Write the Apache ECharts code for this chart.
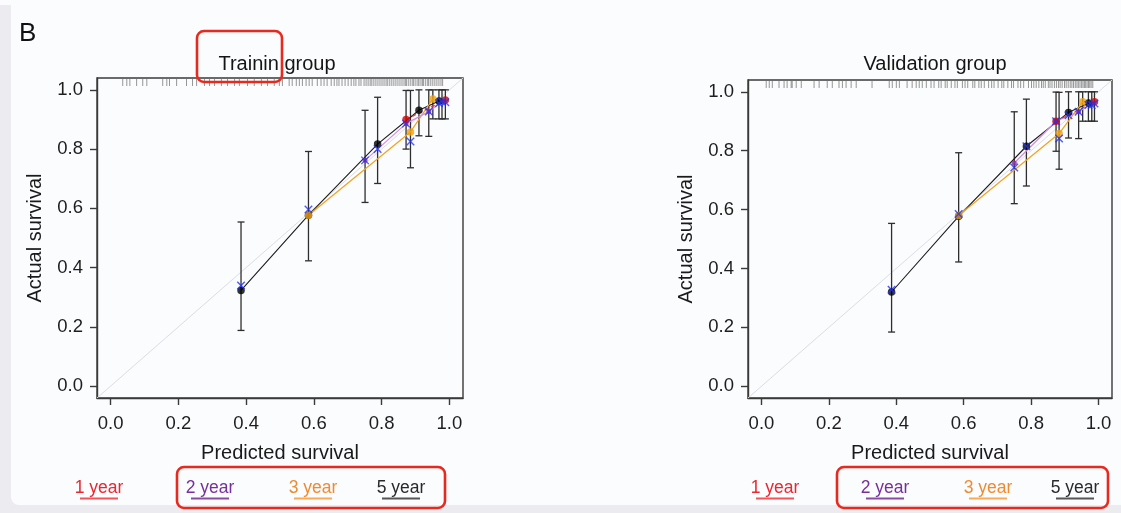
<!DOCTYPE html>
<html>
<head>
<meta charset="utf-8">
<script src="https://cdn.jsdelivr.net/npm/echarts@6/dist/echarts.min.js"></script>
<style>
html,body{margin:0;padding:0;background:#ecebef;}
#c{width:1121px;height:513px;}
</style>
</head>
<body>
<div id="c"></div>
<script>
// ---------- data ----------
const tickValues = [0, 0.2, 0.4, 0.6, 0.8, 1.0];
const panelTitles = ['Trainin group', 'Validation group'];
const xName = 'Predicted survival';
const yName = 'Actual survival';
const legendLabels = ['1 year', '2 year', '3 year', '5 year'];

// Training group
const trainYear1 = [[0.872, 0.900], [0.988, 0.966]];
const trainYear2 = [[0.751, 0.762], [0.872, 0.886], [0.939, 0.927], [0.978, 0.960]];
const trainYear3 = [[0.584, 0.577], [0.885, 0.858], [0.951, 0.969]];
const trainYear5 = [[0.385, 0.323], [0.584, 0.577], [0.788, 0.817], [0.910, 0.931], [0.969, 0.962]];
const trainCorrected = [[0.385, 0.340], [0.584, 0.596], [0.751, 0.762], [0.788, 0.800], [0.872, 0.886],
  [0.885, 0.826], [0.939, 0.927], [0.969, 0.955], [0.978, 0.960], [0.988, 0.958]];
const trainErrors = [[0.385, 0.188, 0.554], [0.584, 0.423, 0.792], [0.751, 0.620, 0.931], [0.788, 0.684, 0.975],
  [0.872, 0.800, 0.998], [0.885, 0.737, 0.998], [0.910, 0.845, 1.000], [0.939, 0.843, 1.000],
  [0.951, 0.902, 1.000], [0.969, 0.902, 1.000], [0.978, 0.902, 1.000], [0.988, 0.902, 1.000]];
const trainRug = [0.036, 0.048, 0.057, 0.077, 0.095, 0.107, 0.154, 0.166, 0.174, 0.195, 0.224, 0.242, 0.254,
  0.277, 0.292, 0.307, 0.327, 0.345, 0.366, 0.380, 0.404, 0.424, 0.445, 0.463, 0.483, 0.498, 0.507, 0.527,
  0.536, 0.548, 0.557, 0.566, 0.577, 0.586, 0.595, 0.610, 0.621, 0.630, 0.639, 0.651, 0.660, 0.668, 0.674,
  0.683, 0.692, 0.701, 0.710, 0.718, 0.724, 0.733, 0.739, 0.748, 0.754, 0.760, 0.766, 0.771, 0.777, 0.783,
  0.789, 0.795, 0.801, 0.807, 0.813, 0.818, 0.824, 0.830, 0.836, 0.842, 0.848, 0.854, 0.860, 0.866, 0.871,
  0.874, 0.880, 0.886, 0.892, 0.895, 0.901, 0.907, 0.910, 0.916, 0.921, 0.924, 0.930, 0.936, 0.939, 0.945,
  0.951, 0.957, 0.963, 0.969, 0.975, 0.980];

// Validation group
const validYear1 = [[0.874, 0.900], [0.988, 0.966]];
const validYear2 = [[0.750, 0.758], [0.874, 0.900], [0.941, 0.932], [0.980, 0.960]];
const validYear3 = [[0.585, 0.580], [0.883, 0.858], [0.953, 0.966]];
const validYear5 = [[0.386, 0.320], [0.585, 0.577], [0.786, 0.815], [0.911, 0.930], [0.970, 0.962]];
const validCorrected = [[0.386, 0.328], [0.585, 0.585], [0.750, 0.743], [0.786, 0.815], [0.874, 0.900],
  [0.883, 0.841], [0.911, 0.920], [0.941, 0.932], [0.970, 0.955], [0.980, 0.955], [0.988, 0.960]];
const validErrors = [[0.386, 0.184, 0.553], [0.585, 0.422, 0.793], [0.750, 0.620, 0.932], [0.786, 0.680, 0.975],
  [0.874, 0.798, 0.999], [0.883, 0.737, 0.998], [0.911, 0.843, 1.000], [0.941, 0.841, 1.000],
  [0.953, 0.900, 1.000], [0.970, 0.900, 1.000], [0.980, 0.900, 1.000], [0.988, 0.900, 1.000]];
const validRug = [0.014, 0.023, 0.032, 0.052, 0.067, 0.076, 0.088, 0.091, 0.103, 0.118, 0.156, 0.171, 0.195,
  0.210, 0.230, 0.240, 0.251, 0.266, 0.281, 0.328, 0.379, 0.388, 0.400, 0.409, 0.432, 0.447, 0.459, 0.468,
  0.477, 0.489, 0.503, 0.512, 0.526, 0.533, 0.545, 0.551, 0.563, 0.574, 0.581, 0.596, 0.604, 0.612, 0.627,
  0.633, 0.645, 0.652, 0.661, 0.674, 0.683, 0.690, 0.702, 0.713, 0.719, 0.731, 0.742, 0.748, 0.761, 0.769,
  0.778, 0.792, 0.801, 0.808, 0.815, 0.823, 0.831, 0.836, 0.842, 0.851, 0.856, 0.862, 0.869, 0.875, 0.881,
  0.886, 0.892, 0.899, 0.904, 0.910, 0.916, 0.921, 0.926, 0.931, 0.936, 0.940, 0.945, 0.950, 0.954, 0.958,
  0.962, 0.966, 0.970, 0.974, 0.978, 0.983];

// ---------- styles ----------
const FONT = 'Liberation Sans, Arial, Helvetica, sans-serif';
const lineColors = ['#ee3030', '#d889e2', '#f4a21e', '#1c1c1c'];
const dotColors = ['#d40000', '#8a2c9c', '#f0a010', '#000000'];
const legendText = ['#ea2630', '#76309a', '#f08a30', '#2a2a2a'];
const legendLine = ['#f2545c', '#8b4aa2', '#f7ab56', '#555555'];
const AX = '#3a3a3a';

const grids = [
  {left: 97, top: 78, width: 366, height: 320},
  {left: 748, top: 80, width: 364, height: 318}
];

const panels = [
  {years: [trainYear1, trainYear2, trainYear3, trainYear5], corr: trainCorrected, err: trainErrors, rug: trainRug},
  {years: [validYear1, validYear2, validYear3, validYear5], corr: validCorrected, err: validErrors, rug: validRug}
];

function axisBase(isX) {
  return {
    type: 'value', min: -0.04, max: 1.04,
    axisLine: {show: true, onZero: false, lineStyle: {color: AX, width: 1.4}},
    axisTick: {show: true, length: 7, inside: false, customValues: tickValues, lineStyle: {color: AX, width: 1.4}},
    axisLabel: {
      customValues: tickValues, formatter: v => Number(v).toFixed(1),
      color: '#1e1e1e', fontSize: 18.5, fontFamily: FONT, margin: isX ? 16 : 14
    },
    splitLine: {show: false},
    name: isX ? xName : yName,
    nameLocation: 'middle',
    nameGap: isX ? 45 : 52,
    nameTextStyle: {fontSize: 20, color: '#1a1a1a', fontFamily: FONT}
  };
}

const xAxes = [], yAxes = [], series = [];
grids.forEach((g, i) => {
  xAxes.push(Object.assign(axisBase(true), {gridIndex: i}));
  yAxes.push(Object.assign(axisBase(false), {gridIndex: i}));
  const p = panels[i];
  // diagonal reference line
  series.push({
    type: 'line', xAxisIndex: i, yAxisIndex: i, data: [[-0.04, -0.04], [1.04, 1.04]],
    symbol: 'none', lineStyle: {color: '#dcdce2', width: 1}, silent: true, z: 1
  });
  // rug
  series.push({
    type: 'scatter', xAxisIndex: i, yAxisIndex: i, data: p.rug.map(v => [v, 1.04]),
    symbol: 'rect', symbolSize: [0.9, 8], symbolOffset: [0, 4],
    itemStyle: {color: '#6e6e6e', opacity: 0.8}, silent: true, z: 2
  });
  // error bars
  series.push({
    type: 'custom', xAxisIndex: i, yAxisIndex: i, data: p.err, z: 3,
    encode: {x: 0, y: [1, 2]},
    renderItem: function (params, api) {
      const x = api.value(0), lo = api.value(1), hi = api.value(2);
      const a = api.coord([x, lo]), b = api.coord([x, hi]);
      const st = {stroke: '#2e2e2e', lineWidth: 1.3};
      return {
        type: 'group', children: [
          {type: 'line', shape: {x1: a[0], y1: a[1], x2: b[0], y2: b[1]}, style: st},
          {type: 'line', shape: {x1: a[0] - 3.5, y1: a[1], x2: a[0] + 3.5, y2: a[1]}, style: st},
          {type: 'line', shape: {x1: b[0] - 3.5, y1: b[1], x2: b[0] + 3.5, y2: b[1]}, style: st}
        ]
      };
    }
  });
  // lines (5,3,2,1 order)
  [3, 2, 1, 0].forEach(k => {
    series.push({
      type: 'line', xAxisIndex: i, yAxisIndex: i, data: p.years[k], symbol: 'none', z: 4,
      lineStyle: {color: lineColors[k], width: k === 3 ? 1.1 : 1.2, type: k === 0 ? [4, 3] : 'solid'},
      silent: true
    });
  });
  // dots
  [1, 3, 0, 2].forEach(k => {
    series.push({
      type: 'scatter', xAxisIndex: i, yAxisIndex: i, data: p.years[k], symbol: 'circle',
      symbolSize: k === 1 ? 5 : 7.5,
      itemStyle: {color: dotColors[k]}, z: 5, silent: true
    });
  });
  // bias-corrected crosses
  series.push({
    type: 'scatter', xAxisIndex: i, yAxisIndex: i, data: p.corr,
    symbol: 'path://M0,0L10,10M10,0L0,10', symbolSize: 7.5,
    itemStyle: {color: 'rgba(0,0,0,0)', borderColor: '#2233f5', borderWidth: 1.4}, z: 6, silent: true
  });
});

// legend items built from labels
const legendX = [[99, 210, 313, 401], [775, 885, 988, 1075]];
const graphics = [
  {type: 'rect', shape: {x: 0, y: 0, width: 1121, height: 513}, style: {fill: '#ecebef'}, z: -10, silent: true},
  {type: 'rect', shape: {x: 11, y: -20, width: 1130, height: 525, r: 8}, style: {fill: '#fbfcfe'}, z: -9, silent: true},
  {type: 'rect', shape: {x: 0, y: 0, width: 11, height: 5}, style: {fill: '#fbfcfe'}, z: -9, silent: true},
  {type: 'text', left: 19, top: 21, style: {text: 'B', font: '26px ' + FONT, fill: '#111'}, z: 10}
];
legendX.forEach((row) => {
  row.forEach((cx, k) => {
    graphics.push({type: 'text', x: cx, y: 488, style: {text: legendLabels[k], font: '17.5px ' + FONT, fill: legendText[k], align: 'center', verticalAlign: 'middle'}, z: 10});
    graphics.push({type: 'line', shape: {x1: cx - 19, y1: 498.5, x2: cx + 19, y2: 498.5}, style: {stroke: legendLine[k], lineWidth: 2.2}, z: 10});
  });
});
// red annotation boxes
[[197, 31, 85, 51], [177, 467, 268, 41], [837, 467, 271, 41]].forEach(b => {
  graphics.push({type: 'rect', shape: {x: b[0], y: b[1], width: b[2], height: b[3], r: 7},
    style: {fill: 'none', stroke: '#e8291f', lineWidth: 2.6}, z: 20});
});

const chart = echarts.init(document.getElementById('c'), null, {renderer: 'canvas'});
chart.setOption({
  backgroundColor: 'transparent',
  animation: false,
  title: [
    {text: panelTitles[0], left: 272, top: 49, textAlign: 'center', textStyle: {fontSize: 20, fontWeight: 'normal', color: '#151515', fontFamily: FONT}},
    {text: panelTitles[1], left: 930, top: 49, textAlign: 'center', textStyle: {fontSize: 20, fontWeight: 'normal', color: '#151515', fontFamily: FONT}}
  ],
  grid: grids.map(g => Object.assign({show: true, borderColor: AX, borderWidth: 1.4, backgroundColor: 'transparent', containLabel: false}, g)),
  xAxis: xAxes,
  yAxis: yAxes,
  series: series,
  graphic: graphics
});
</script>
</body>
</html>
